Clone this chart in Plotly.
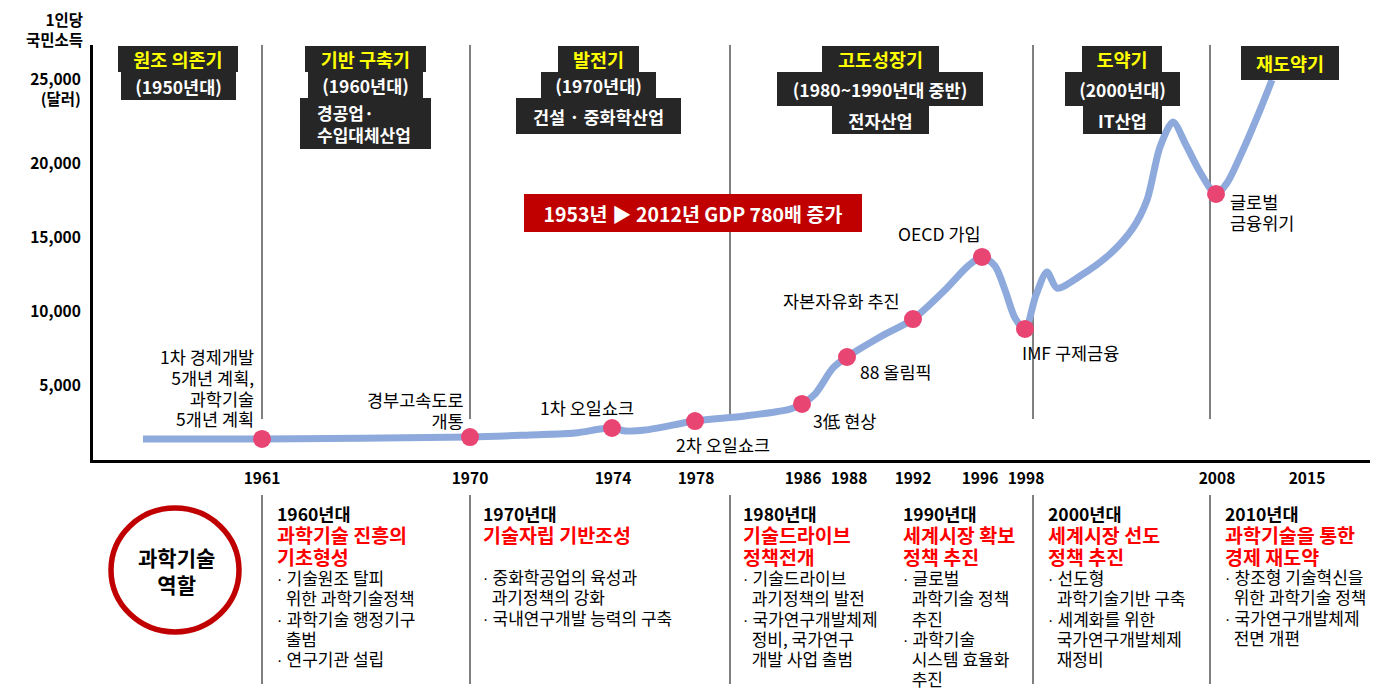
import plotly.graph_objects as go

FONT = "Noto Sans CJK KR"

# 1인당 국민소득 곡선 (타임라인 위치, 달러)
curve_pos = [143, 262, 470, 530, 575, 600, 612, 625, 645, 695, 745, 790, 802, 815, 833,
             847, 880, 913, 945, 968, 982, 995, 1005, 1015, 1025, 1036, 1047, 1057, 1080,
             1110, 1133, 1147, 1160, 1173, 1186, 1200, 1216, 1227, 1243, 1260, 1272]
curve_income = [1420, 1420, 1550, 1690, 1820, 2090, 2160, 1960, 2020, 2630, 2970, 3440, 3780,
                4450, 6210, 6950, 8300, 9510, 11470, 13090, 13700, 13090, 11470, 9580, 8840,
                11130, 12680, 11600, 12410, 13900, 15650, 17540, 21120, 22800, 21250, 19430,
                17950, 18690, 20920, 23610, 25640]

# 주요 사건
event_years = [1961, 1970, 1974, 1978, 1986, 1988, 1992, 1996, 1998, 2008]
event_pos = [262, 470, 612, 695, 802, 847, 913, 982, 1025, 1216]
event_income = [1420, 1550, 2160, 2630, 3780, 6950, 9510, 13700, 8840, 17950]
event_labels = [
    "1차 경제개발<br>5개년 계획,<br>과학기술<br>5개년 계획",
    "경부고속도로<br>개통",
    "1차 오일쇼크",
    "2차 오일쇼크",
    "3低 현상",
    "88 올림픽",
    "자본자유화 추진",
    "OECD 가입",
    "IMF 구제금융",
    "글로벌<br>금융위기",
]

tick_years = ["1961", "1970", "1974", "1978", "1986", "1988", "1992", "1996", "1998", "2008", "2015"]
tick_pos = [262, 470, 613, 696, 803, 849, 913, 980, 1026, 1217, 1307]

income_ticks = [5000, 10000, 15000, 20000, 25000]
income_ticktext = ["5,000", "10,000", "15,000", "20,000", "25,000<br>(달러)"]

# 시기 구분
era_titles = ["원조 의존기", "기반 구축기", "발전기", "고도성장기", "도약기", "재도약기"]
era_decades = ["(1950년대)", "(1960년대)", "(1970년대)", "(1980~1990년대 중반)", "(2000년대)", None]
era_industries = [None, "\u2003경공업·<br>\u2003수입대체산업", "건설 · 중화학산업", "전자산업", "IT산업", None]
era_bounds = [262, 470, 730, 1033, 1210]

# 과학기술 역할
role_decades = ["1960년대", "1970년대", "1980년대", "1990년대", "2000년대", "2010년대"]
role_titles = [
    ["과학기술 진흥의", "기초형성"],
    ["기술자립 기반조성"],
    ["기술드라이브", "정책전개"],
    ["세계시장 확보", "정책 추진"],
    ["세계시장 선도", "정책 추진"],
    ["과학기술을 통한", "경제 재도약"],
]
role_items = [
    [["기술원조 탈피", "위한 과학기술정책"], ["과학기술 행정기구", "출범"], ["연구기관 설립"]],
    [["중화학공업의 육성과", "과기정책의 강화"], ["국내연구개발 능력의 구축"]],
    [["기술드라이브", "과기정책의 발전"], ["국가연구개발체제", "정비, 국가연구", "개발 사업 출범"]],
    [["글로벌", "과학기술 정책", "추진"], ["과학기술", "시스템 효율화", "추진"]],
    [["선도형", "과학기술기반 구축"], ["세계화를 위한", "국가연구개발체제", "재정비"]],
    [["창조형 기술혁신을", "위한 과학기술 정책"], ["국가연구개발체제", "전면 개편"]],
]


# pixel -> paper helpers (plot area: x 93..1370, y 45..460 of the page)
def px(p):
    return (p - 93) / 1277


def py(p):
    return (460 - p) / 415


def sized(text, size, extra=""):
    # 줄 간격은 annotation 폰트로, 글자 크기는 span 으로
    return "<br>".join('<span style="font-size:%spx;%s">%s</span>' % (size, extra, t)
                       for t in text.split("<br>"))


fig = go.Figure()
fig.add_scatter(x=curve_pos, y=curve_income, mode="lines",
                line=dict(color="#8EAADC", width=7, shape="spline", smoothing=0.8),
                hoverinfo="skip")
fig.add_scatter(x=event_pos, y=event_income, mode="markers",
                marker=dict(color="#E84572", size=18), text=event_years,
                hoverinfo="text")

shapes = []
for b in era_bounds:
    shapes.append(dict(type="line", xref="x", yref="paper", x0=b, x1=b, y0=py(419), y1=1,
                       line=dict(color="black", width=1), layer="below"))
    shapes.append(dict(type="line", xref="x", yref="paper", x0=b, x1=b, y0=py(684), y1=py(495),
                       line=dict(color="black", width=1)))
shapes.append(dict(type="circle", xref="paper", yref="paper", x0=px(111), x1=px(239),
                   y0=py(632), y1=py(508), line=dict(color="#C00000", width=5.5)))

ann = []

# 사건 라벨 (점 기준 위치)
label_place = [
    ("right", -8, 51), ("right", -6, 27), ("center", -25, 20), ("center", 28, -23),
    ("center", 42, -17), ("center", 49, -15), ("center", -72, 19), ("center", -43, 23),
    ("center", 45, -24), ("left", 14, -18),
]
for x, y, t, (anc, dx, dy) in zip(event_pos, event_income, event_labels, label_place):
    ann.append(dict(x=x, y=y, xref="x", yref="y", text=sized(t, 17.5), showarrow=False,
                    xanchor=anc, yanchor="middle", align=anc, borderpad=0, borderwidth=0,
                    xshift=dx, yshift=dy, font=dict(size=16, color="black")))

# 상단 시기 박스
box_x = [178, 365, 598, 880, 1122, 1290]
row1_w = [120, 121, 81, 117, 80, 98]
row1_h = [26, 26, 26, 26, 26, 34]
row2_w = [115, 115, 115, 206, 115, None]
row2_h = [28, 26, 26, 34, 34, None]
row3_w = [None, 131, 165, 97, 79, None]
row3_h = [None, 51, 36, 28, 28, None]
for i in range(len(era_titles)):
    ann.append(dict(x=px(box_x[i]), y=py(46), xref="paper", yref="paper", text=era_titles[i],
                    showarrow=False, xanchor="center", yanchor="top", bgcolor="#262626",
                    width=row1_w[i], height=row1_h[i], borderpad=0, borderwidth=0,
                    font=dict(size=18.5, color="#FFFF00", weight="bold")))
    if era_decades[i]:
        ann.append(dict(x=px(box_x[i]), y=py(72), xref="paper", yref="paper",
                        text=era_decades[i], showarrow=False, xanchor="center", yanchor="top",
                        bgcolor="#262626", width=row2_w[i], height=row2_h[i], borderpad=0,
                        borderwidth=0, font=dict(size=17.5, color="white", weight="bold")))
    if era_industries[i]:
        top = 72 + row2_h[i]
        multi = "<br>" in era_industries[i]
        ann.append(dict(x=px(box_x[i]), y=py(top), xref="paper", yref="paper",
                        text=era_industries[i], showarrow=False, xanchor="center",
                        yanchor="top", align="left" if multi else "center",
                        bgcolor="#262626", width=row3_w[i], height=row3_h[i], borderpad=0,
                        borderwidth=0,
                        font=dict(size=17 if multi else 17.5, color="white", weight="bold")))

# GDP 증가 박스
ann.append(dict(x=px(693), y=py(194), xref="paper", yref="paper",
                text="1953년 ▶ 2012년 GDP 780배 증가", showarrow=False, xanchor="center",
                yanchor="top", bgcolor="#C00000", width=338, height=38, borderpad=0,
                borderwidth=0, font=dict(size=19.5, color="white", weight="bold")))

# 축 제목
ann.append(dict(x=px(83), y=py(29), xref="paper", yref="paper", text="1인당<br>국민소득",
                showarrow=False, xanchor="right", yanchor="middle", align="right",
                borderpad=0, borderwidth=0,
                font=dict(size=15.5, color="black", weight="bold")))

# 과학기술 역할
ann.append(dict(x=px(176), y=py(570), xref="paper", yref="paper", text="과학기술<br>역할",
                showarrow=False, xanchor="center", yanchor="middle", borderpad=0,
                borderwidth=0, font=dict(size=21, color="black", weight="bold")))

BUL = '<span style="font-family:Liberation Sans">·\u00a0</span>'
IND = '<span style="font-family:Liberation Sans">\u00a0\u00a0</span>'
RED_GAP = 22.1    # 17px 기준 줄 간격
ITEM_GAP = 20.28  # 15.6px 기준 줄 간격

role_x = [277, 483, 743, 903, 1048, 1225]
for i, cx in enumerate(role_x):
    ann.append(dict(x=px(cx), y=py(513), xref="paper", yref="paper",
                    text=role_decades[i], showarrow=False, xanchor="left", yanchor="middle",
                    borderpad=0, borderwidth=0,
                    font=dict(size=17.5, color="black", weight="bold")))
    n_red = len(role_titles[i])
    ann.append(dict(x=px(cx), y=py(534 + RED_GAP * (n_red - 1) / 2), xref="paper",
                    yref="paper", text=sized("<br>".join(role_titles[i]), 19.5),
                    showarrow=False, xanchor="left", yanchor="middle", align="left",
                    borderpad=0, borderwidth=0,
                    font=dict(size=17, color="#FF0000", weight="bold")))
    lines = []
    for item in role_items[i]:
        for j, t in enumerate(item):
            lines.append((BUL if j == 0 else IND) + sized(t, 17))
    ann.append(dict(x=px(cx), y=py(577 + ITEM_GAP * (len(lines) - 1) / 2), xref="paper",
                    yref="paper", text="<br>".join(lines), showarrow=False, xanchor="left",
                    yanchor="middle", align="left", borderpad=0, borderwidth=0,
                    font=dict(size=15.6, color="black")))

fig.update_layout(
    width=1391, height=690, autosize=False,
    margin=dict(l=85, r=29, t=37, b=238),
    plot_bgcolor="white", paper_bgcolor="white", showlegend=False,
    font=dict(family=FONT, color="black"),
    xaxis=dict(range=[93, 1370], showline=True, linecolor="black", linewidth=3,
               showgrid=False, zeroline=False, ticks="", tickvals=tick_pos,
               ticktext=tick_years, tickfont=dict(size=15.5, weight="bold"),
               ticklabelstandoff=2),
    yaxis=dict(range=[0, 28000], showline=True, linecolor="black", linewidth=3,
               showgrid=False, zeroline=False, ticks="", tickvals=income_ticks,
               ticktext=income_ticktext, tickfont=dict(size=15.5, weight="bold"),
               ticklabelstandoff=6),
    shapes=shapes, annotations=ann,
)

fig.write_html("out.html")
